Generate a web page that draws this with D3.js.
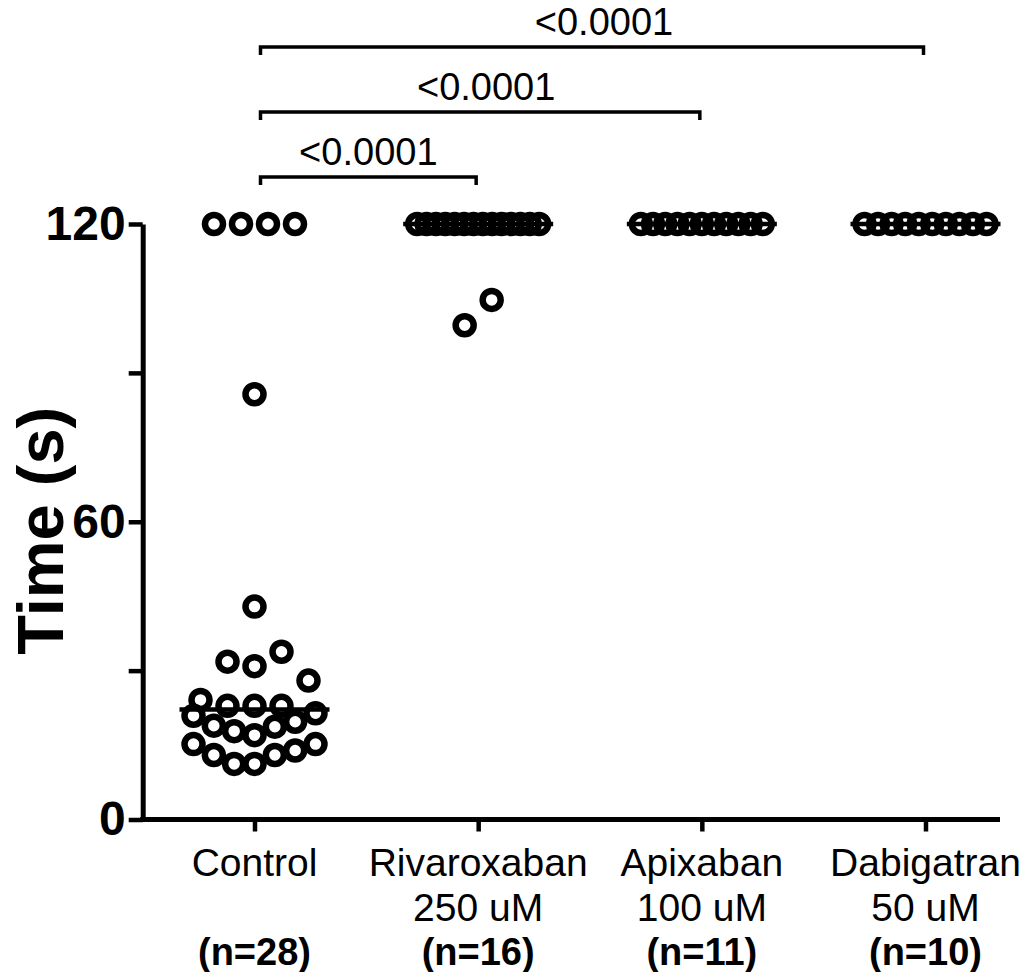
<!DOCTYPE html>
<html>
<head>
<meta charset="utf-8">
<script src="https://cdn.jsdelivr.net/npm/d3@7"></script>
<style>
  body { margin: 0; background: #fff; }
  svg { display: block; }
  text { font-family: "Liberation Sans", Arial, Helvetica, sans-serif; fill: #000; }
</style>
</head>
<body>
<svg id="chart" width="1026" height="972"></svg>
<script>
// ---- data -------------------------------------------------------------
const categories   = ["Control", "Rivaroxaban", "Apixaban", "Dabigatran"];
const doseLabels   = ["", "250 uM", "100 uM", "50 uM"];
const countLabels  = ["(n=28)", "(n=16)", "(n=11)", "(n=10)"];

// occlusion time in seconds (120 s = cut-off)
const controlTimes = [120, 120, 120, 120, 85.7, 42.9, 33.8, 31.8, 30.9, 28.0,
                      24.1, 22.9, 22.9, 22.9, 21.4, 20.9, 19.7, 18.9, 18.7, 17.8,
                      17.0, 15.2, 15.2, 13.9, 13.0, 13.0, 11.2, 11.2];
const rivaroxabanTimes = [120, 120, 120, 120, 120, 120, 120, 120, 120, 120,
                          120, 120, 120, 120, 104.7, 99.6];
const apixabanTimes  = [120, 120, 120, 120, 120, 120, 120, 120, 120, 120, 120];
const dabigatranTimes = [120, 120, 120, 120, 120, 120, 120, 120, 120, 120];

const yTickValues = [0, 30, 60, 90, 120];
const yTickLabels = ["0", "", "60", "", "120"];

const comparisonTargets = ["Rivaroxaban", "Apixaban", "Dabigatran"];
const comparisonPValues = ["<0.0001", "<0.0001", "<0.0001"];

// ---- layout -----------------------------------------------------------
const groups = [controlTimes, rivaroxabanTimes, apixabanTimes, dabigatranTimes];

const svg = d3.select("#chart");
const axisX = 142.7;           // position of the vertical axis
const axisRight = 1000;        // end of the horizontal axis

const y = d3.scaleLinear().domain([0, 120]).range([819.5, 224]);
const x = d3.scalePoint().domain(categories).range([254.5, 925.5]);

const R = 9;            // symbol radius (centre of stroke)
const SW = 6.5;         // symbol stroke
const ROW_H = 25.5;     // points closer than this (px) share a row
const MAX_STEP = 27;    // nominal spacing between neighbours in a row
const MAX_SPAN = 122;   // widest a row may become (centre to centre)
const MEDIAN_W = 150;

// Arrange each group's points in horizontal rows, centre-out by value
function layoutGroup(values, cx) {
  const pts = values.map(v => ({ v, py: y(v) }))
                    .sort((a, b) => d3.ascending(a.v, b.v));
  const rows = [];
  let cur = null;
  pts.forEach(p => {
    if (!cur || cur.start - p.py > ROW_H) {
      cur = { start: p.py, items: [] };
      rows.push(cur);
    }
    cur.items.push(p);
  });
  rows.forEach(row => {
    const n = row.items.length;
    const step = n > 1 ? Math.min(MAX_STEP, MAX_SPAN / (n - 1)) : 0;
    const slots = [];
    if (n % 2 === 1) {
      slots.push(0);
      for (let k = 1; slots.length < n; k++) { slots.push(-k); if (slots.length < n) slots.push(k); }
    } else {
      for (let k = 0; slots.length < n; k++) { slots.push(-(k + 0.5)); slots.push(k + 0.5); }
    }
    row.items.forEach((p, i) => { p.px = cx + slots[i] * step; });
  });
  return pts;
}

// ---- axes -------------------------------------------------------------
const yAxis = d3.axisLeft(y)
  .tickValues(yTickValues)
  .tickSize(14)
  .tickSizeOuter(0)
  .tickPadding(3)
  .tickFormat((d, i) => yTickLabels[i]);

const gy = svg.append("g")
  .attr("transform", `translate(${axisX},0)`)
  .call(yAxis);
gy.select(".domain").attr("stroke-width", 5).attr("stroke", "#000");
gy.selectAll(".tick line").attr("stroke-width", 4.5).attr("stroke", "#000");
gy.selectAll(".tick text")
  .attr("font-size", 48)
  .attr("font-weight", "bold")
  .attr("fill", "#000")
  .style("font-family", '"Liberation Sans", Arial, sans-serif');

// horizontal axis line
svg.append("line")
  .attr("x1", axisX - 2.5).attr("x2", axisRight)
  .attr("y1", y(0)).attr("y2", y(0))
  .attr("stroke", "#000").attr("stroke-width", 5);

const xAxis = d3.axisBottom(x).tickSize(12).tickSizeOuter(0).tickFormat("");
const gx = svg.append("g")
  .attr("transform", `translate(0,${y(0)})`)
  .call(xAxis);
gx.select(".domain").remove();
gx.selectAll(".tick line").attr("stroke-width", 4.5).attr("stroke", "#000");

// category labels (three lines)
const labelG = svg.append("g");
categories.forEach((c, i) => {
  const cx = x(c);
  labelG.append("text").attr("x", cx).attr("y", 876)
    .attr("text-anchor", "middle").attr("font-size", 39).text(c);
  if (doseLabels[i]) {
    labelG.append("text").attr("x", cx).attr("y", 921)
      .attr("text-anchor", "middle").attr("font-size", 39).text(doseLabels[i]);
  }
  labelG.append("text").attr("x", cx).attr("y", 965)
    .attr("text-anchor", "middle").attr("font-size", 38)
    .attr("font-weight", "bold").text(countLabels[i]);
});

// y axis title
svg.append("text")
  .attr("transform", `translate(63,${(y(0) + y(120)) / 2 + 9}) rotate(-90)`)
  .attr("text-anchor", "middle")
  .attr("font-size", 65)
  .attr("font-weight", "bold")
  .text("Time (s)");

// ---- points -----------------------------------------------------------
const plotG = svg.append("g");
groups.forEach((vals, gi) => {
  const cx = x(categories[gi]);
  const pts = layoutGroup(vals, cx);
  plotG.append("g").selectAll("circle")
    .data(pts)
    .join("circle")
    .attr("cx", d => d.px)
    .attr("cy", d => d.py)
    .attr("r", R)
    .attr("fill", "none")
    .attr("stroke", "#000")
    .attr("stroke-width", SW);

  // median line on top of the symbols
  const med = d3.median(vals);
  plotG.append("line")
    .attr("x1", cx - MEDIAN_W / 2).attr("x2", cx + MEDIAN_W / 2)
    .attr("y1", y(med)).attr("y2", y(med))
    .attr("stroke", "#000").attr("stroke-width", 4.5);
});

// ---- significance brackets -------------------------------------------
const bracketG = svg.append("g");
comparisonTargets.forEach((t, i) => {
  const by = y(120) - 47 - 65 * i;       // stacked upward
  const x1 = x(categories[0]) + 6;
  const x2 = x(t) - 2;
  bracketG.append("path")
    .attr("d", `M${x1},${by + 8}V${by}H${x2}V${by + 8}`)
    .attr("fill", "none").attr("stroke", "#000").attr("stroke-width", 3.5);
  bracketG.append("text")
    .attr("x", (x1 + x2) / 2 + 6 * i).attr("y", by - 12)
    .attr("text-anchor", "middle").attr("font-size", 38)
    .text(comparisonPValues[i]);
});
</script>
</body>
</html>
